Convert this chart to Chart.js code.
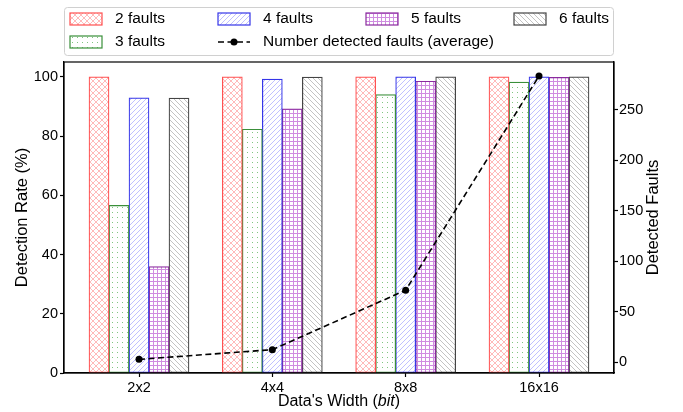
<!DOCTYPE html>
<html>
<head>
<meta charset="utf-8">
<script src="https://cdn.jsdelivr.net/npm/chart.js@4"></script>
<style>
  body { margin:0; background:#fff; }
  #grafico { display:block; }
</style>
</head>
<body>
<canvas id="grafico" width="683" height="412"></canvas>
<script>
// ── Datos ──
const categorias   = ['2x2', '4x4', '8x8', '16x16'];
const fallos2      = [100, 100, 100, 100];
const fallos3      = [56.6, 82.3, 94.0, 98.2];
const fallos4      = [92.9, 99.2, 100, 100];
const fallos5      = [35.9, 89.2, 98.5, 99.8];
const fallos6      = [92.8, 99.9, 100, 100];
const promedioDet  = [3, 12.6, 71.5, 283.6];
const ticksIzq     = [0, 20, 40, 60, 80, 100];
const ticksDer     = [0, 50, 100, 150, 200, 250];

const FUENTE = '"Liberation Sans", Arial, sans-serif';

// ── Tramas (hatch) ──
function trama(tipo, color) {
  const c = document.createElement('canvas');
  const n = tipo === 'puntos' ? 5 : tipo === 'rejilla' ? 4 : tipo === 'cruz' ? 6 : 5;
  c.width = n; c.height = n;
  const g = c.getContext('2d');
  g.fillStyle = '#fff'; g.fillRect(0, 0, n, n);
  g.strokeStyle = color; g.fillStyle = color; g.lineWidth = 0.8;
  const linea = (a, b, x, y) => { g.beginPath(); g.moveTo(a, b); g.lineTo(x, y); g.stroke(); };
  if (tipo === 'cruz') {
    linea(0, 0, n, n); linea(0, n, n, 0);
  } else if (tipo === 'barra') {
    linea(-1, n + 1, n + 1, -1); linea(-1, 1, 1, -1); linea(n - 1, n + 1, n + 1, n - 1);
  } else if (tipo === 'invertida') {
    linea(-1, -1, n + 1, n + 1); linea(n - 1, -1, n + 1, 1); linea(-1, n - 1, 1, n + 1);
  } else if (tipo === 'rejilla') {
    g.fillRect(0, 1, n, 1); g.fillRect(1, 0, 1, n);
  } else {
    g.fillRect(2, 2, 1, 1);
  }
  return g.createPattern(c, 'repeat');
}

const estilos = [
  { label:'2 faults', data:fallos2, borde:'#ff5050', relleno: trama('cruz', '#ffa8a8') },
  { label:'3 faults', data:fallos3, borde:'#3a8f3a', relleno: trama('puntos', '#80c680') },
  { label:'4 faults', data:fallos4, borde:'#3535e8', relleno: trama('barra', '#b0b0ff') },
  { label:'5 faults', data:fallos5, borde:'#8a2a9e', relleno: trama('rejilla', '#d08ce0') },
  { label:'6 faults', data:fallos6, borde:'#444444', relleno: trama('invertida', '#b4b4b4') },
];

const datasetsBarras = estilos.map(e => ({
  type: 'bar',
  label: e.label,
  data: e.data.map((v, i) => ({ x: i, y: v })),
  backgroundColor: e.relleno,
  borderColor: e.borde,
  borderWidth: 1.2,
  borderSkipped: false,
  barThickness: 20,
  yAxisID: 'y',
  order: 1,
}));

const datasetLinea = {
  type: 'line',
  label: 'Number detected faults (average)',
  data: promedioDet.map((v, i) => ({ x: i, y: v })),
  borderColor: '#000', backgroundColor: '#000',
  borderWidth: 1.6, borderDash: [6, 3.5],
  pointRadius: 3.5, pointBackgroundColor: '#000', pointBorderWidth: 0,
  tension: 0, yAxisID: 'y1', order: 0,
};

// ── Plugin: marco, títulos y leyenda ──
const decoracion = {
  id: 'decoracion',
  beforeDraw(chart) {
    const g = chart.ctx;
    g.save(); g.fillStyle = '#fff'; g.fillRect(0, 0, chart.width, chart.height); g.restore();
  },
  afterDraw(chart) {
    const g = chart.ctx;
    const a = chart.chartArea;
    g.save();
    // marco
    g.strokeStyle = '#000'; g.lineWidth = 1.2;
    g.strokeRect(a.left, a.top, a.right - a.left, a.bottom - a.top);

    // títulos de ejes
    g.fillStyle = '#000';
    g.font = `16.5px ${FUENTE}`;
    g.textBaseline = 'middle'; g.textAlign = 'center';
    const cy = (a.top + a.bottom) / 2;
    g.save(); g.translate(22, cy); g.rotate(-Math.PI / 2); g.fillText('Detection Rate (%)', 0, 0); g.restore();
    g.save(); g.translate(653, cy); g.rotate(-Math.PI / 2); g.fillText('Detected Faults', 0, 0); g.restore();

    const p1 = "Data's Width (", p2 = 'bit', p3 = ')';
    g.font = `16px ${FUENTE}`; const w1 = g.measureText(p1).width, w3 = g.measureText(p3).width;
    g.font = `italic 16px ${FUENTE}`; const w2 = g.measureText(p2).width;
    let x = (a.left + a.right) / 2 - (w1 + w2 + w3) / 2;
    const yt = 402;
    g.textAlign = 'left';
    g.font = `16px ${FUENTE}`; g.fillText(p1, x, yt); x += w1;
    g.font = `italic 16px ${FUENTE}`; g.fillText(p2, x, yt); x += w2;
    g.font = `16px ${FUENTE}`; g.fillText(p3, x, yt);

    // leyenda
    g.fillStyle = '#fff'; g.strokeStyle = '#d0d0d0'; g.lineWidth = 1;
    g.beginPath(); g.roundRect(64.5, 7.5, 549, 48, 3); g.fill(); g.stroke();
    const cols = [70, 218, 366, 514], filas = [19, 42];
    const items = [
      { c:0, f:0, e:estilos[0] }, { c:0, f:1, e:estilos[1] },
      { c:1, f:0, e:estilos[2] }, { c:1, f:1, linea:true },
      { c:2, f:0, e:estilos[3] }, { c:3, f:0, e:estilos[4] },
    ];
    g.font = `15.5px ${FUENTE}`; g.textBaseline = 'middle'; g.textAlign = 'left';
    items.forEach(it => {
      const px = cols[it.c], py = filas[it.f];
      if (it.linea) {
        g.strokeStyle = '#000'; g.lineWidth = 1.6; g.setLineDash([6, 3.5]);
        g.beginPath(); g.moveTo(px, py); g.lineTo(px + 32, py); g.stroke(); g.setLineDash([]);
        g.fillStyle = '#000'; g.beginPath(); g.arc(px + 16, py, 3.5, 0, Math.PI * 2); g.fill();
        g.fillText(datasetLinea.label, px + 45, py);
      } else {
        g.fillStyle = it.e.relleno; g.fillRect(px, py - 6, 32, 12);
        g.strokeStyle = it.e.borde; g.lineWidth = 1.2; g.strokeRect(px, py - 6, 32, 12);
        g.fillStyle = '#000'; g.fillText(it.e.label, px + 45, py);
      }
    });
    g.restore();
  }
};

const ejeComun = {
  offset: false,
  grid: { offset: false, drawOnChartArea: false, drawTicks: true, tickLength: 4, tickColor: '#000', tickWidth: 1.2 },
  border: { display: true, color: '#000', width: 1.2 },
  ticks: { color: '#000', font: { size: 14.5, family: FUENTE } },
};

new Chart(document.getElementById('grafico'), {
  data: { datasets: [datasetLinea, ...datasetsBarras] },
  options: {
    responsive: false, animation: false,
    layout: { padding: { top: 62, left: 0, right: 0, bottom: 0 } },
    plugins: { legend: { display: false }, tooltip: { enabled: false } },
    scales: {
      x: {
        type: 'linear', min: -0.5625, max: 3.5625,
        ...ejeComun,
        ticks: { ...ejeComun.ticks, padding: 2, callback: v => categorias[v] },
        afterBuildTicks: s => { s.ticks = categorias.map((c, i) => ({ value: i })); },
        afterFit: s => { s.height = 39; },
      },
      y: {
        type: 'linear', position: 'left', min: 0, max: 105,
        ...ejeComun,
        ticks: { ...ejeComun.ticks, padding: 2 },
        afterBuildTicks: s => { s.ticks = ticksIzq.map(v => ({ value: v })); },
        afterFit: s => { s.width = 64; },
      },
      y1: {
        type: 'linear', position: 'right', min: -10.5, max: 297.5,
        ...ejeComun,
        ticks: { ...ejeComun.ticks, padding: 1 },
        afterBuildTicks: s => { s.ticks = ticksDer.map(v => ({ value: v })); },
        afterFit: s => { s.width = 69; },
      },
    },
  },
  plugins: [decoracion],
});
</script>
</body>
</html>
